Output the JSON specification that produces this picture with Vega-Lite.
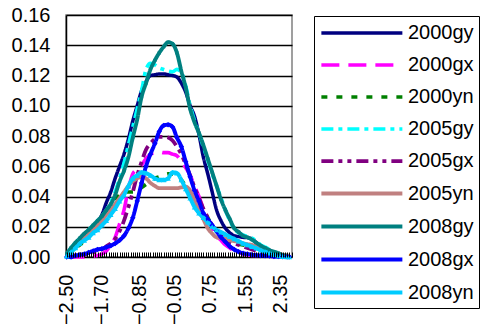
{
  "$schema": "https://vega.github.io/schema/vega-lite/v6.json",
  "width": 226,
  "height": 242,
  "autosize": {"type": "none"},
  "padding": {"left": 66, "top": 15, "right": 190, "bottom": 72},
  "background": "white",
  "config": {
    "view": {"stroke": "#808080", "strokeWidth": 1.5},
    "axis": {"labelFont": "Liberation Sans", "labelFontSize": 20, "labelColor": "black", "domainColor": "black", "domainWidth": 1.5, "title": null},
    "legend": {"orient": "none", "legendX": 248, "legendY": 1, "strokeColor": "black", "fillColor": "white", "padding": 5, "rowPadding": 10, "symbolType": "M-1,0H7", "symbolSize": 410, "labelOffset": 64, "labelFontSize": 20, "labelFont": "Liberation Sans", "labelColor": "black"}
  },
  "data": {"values": [
    {"x": -2.5, "2000gy": 0.001, "2000gx": 0, "2000yn": 0.0005, "2005gy": 0.002, "2005gx": 0, "2005yn": 0.001, "2008gy": 0.002, "2008gx": 0, "2008yn": 0.0005},
    {"x": -2.4, "2000gy": 0.005, "2000gx": 0, "2000yn": 0.003, "2005gy": 0.006, "2005gx": 0.0003, "2005yn": 0.004, "2008gy": 0.006, "2008gx": 0, "2008yn": 0.003},
    {"x": -2.3, "2000gy": 0.008, "2000gx": 0, "2000yn": 0.006, "2005gy": 0.009, "2005gx": 0.0006, "2005yn": 0.007, "2008gy": 0.0095, "2008gx": 0.001, "2008yn": 0.006},
    {"x": -2.2, "2000gy": 0.011, "2000gx": 0, "2000yn": 0.008, "2005gy": 0.012, "2005gx": 0.001, "2005yn": 0.01, "2008gy": 0.0125, "2008gx": 0.0015, "2008yn": 0.009},
    {"x": -2.1, "2000gy": 0.013, "2000gx": 0, "2000yn": 0.011, "2005gy": 0.015, "2005gx": 0.0015, "2005yn": 0.013, "2008gy": 0.0155, "2008gx": 0.002, "2008yn": 0.011},
    {"x": -2.0, "2000gy": 0.016, "2000gx": 0, "2000yn": 0.014, "2005gy": 0.018, "2005gx": 0.002, "2005yn": 0.0155, "2008gy": 0.018, "2008gx": 0.003, "2008yn": 0.013},
    {"x": -1.9, "2000gy": 0.019, "2000gx": 0.0005, "2000yn": 0.017, "2005gy": 0.021, "2005gx": 0.003, "2005yn": 0.018, "2008gy": 0.021, "2008gx": 0.004, "2008yn": 0.016},
    {"x": -1.8, "2000gy": 0.023, "2000gx": 0.001, "2000yn": 0.02, "2005gy": 0.024, "2005gx": 0.004, "2005yn": 0.021, "2008gy": 0.024, "2008gx": 0.005, "2008yn": 0.018},
    {"x": -1.7, "2000gy": 0.028, "2000gx": 0.002, "2000yn": 0.024, "2005gy": 0.027, "2005gx": 0.005, "2005yn": 0.024, "2008gy": 0.027, "2008gx": 0.0055, "2008yn": 0.021},
    {"x": -1.6, "2000gy": 0.036, "2000gx": 0.004, "2000yn": 0.029, "2005gy": 0.031, "2005gx": 0.007, "2005yn": 0.028, "2008gy": 0.031, "2008gx": 0.0065, "2008yn": 0.024},
    {"x": -1.5, "2000gy": 0.043, "2000gx": 0.008, "2000yn": 0.034, "2005gy": 0.036, "2005gx": 0.009, "2005yn": 0.031, "2008gy": 0.035, "2008gx": 0.0075, "2008yn": 0.028},
    {"x": -1.4, "2000gy": 0.052, "2000gx": 0.013, "2000yn": 0.038, "2005gy": 0.043, "2005gx": 0.012, "2005yn": 0.035, "2008gy": 0.041, "2008gx": 0.009, "2008yn": 0.032},
    {"x": -1.3, "2000gy": 0.06, "2000gx": 0.022, "2000yn": 0.041, "2005gy": 0.052, "2005gx": 0.017, "2005yn": 0.039, "2008gy": 0.05, "2008gx": 0.011, "2008yn": 0.037},
    {"x": -1.2, "2000gy": 0.068, "2000gx": 0.031, "2000yn": 0.043, "2005gy": 0.062, "2005gx": 0.024, "2005yn": 0.043, "2008gy": 0.057, "2008gx": 0.014, "2008yn": 0.041},
    {"x": -1.1, "2000gy": 0.078, "2000gx": 0.045, "2000yn": 0.043, "2005gy": 0.074, "2005gx": 0.033, "2005yn": 0.047, "2008gy": 0.066, "2008gx": 0.019, "2008yn": 0.047},
    {"x": -1.0, "2000gy": 0.09, "2000gx": 0.055, "2000yn": 0.043, "2005gy": 0.086, "2005gx": 0.043, "2005yn": 0.05, "2008gy": 0.079, "2008gx": 0.026, "2008yn": 0.052},
    {"x": -0.9, "2000gy": 0.1, "2000gx": 0.058, "2000yn": 0.044, "2005gy": 0.098, "2005gx": 0.054, "2005yn": 0.052, "2008gy": 0.091, "2008gx": 0.037, "2008yn": 0.054},
    {"x": -0.8, "2000gy": 0.11, "2000gx": 0.061, "2000yn": 0.046, "2005gy": 0.11, "2005gx": 0.063, "2005yn": 0.053, "2008gy": 0.106, "2008gx": 0.049, "2008yn": 0.056},
    {"x": -0.7, "2000gy": 0.116, "2000gx": 0.065, "2000yn": 0.048, "2005gy": 0.124, "2005gx": 0.071, "2005yn": 0.052, "2008gy": 0.115, "2008gx": 0.06, "2008yn": 0.0555},
    {"x": -0.6, "2000gy": 0.12, "2000gx": 0.068, "2000yn": 0.05, "2005gy": 0.128, "2005gx": 0.075, "2005yn": 0.049, "2008gy": 0.124, "2008gx": 0.068, "2008yn": 0.054},
    {"x": -0.5, "2000gy": 0.1205, "2000gx": 0.069, "2000yn": 0.052, "2005gy": 0.127, "2005gx": 0.078, "2005yn": 0.047, "2008gy": 0.13, "2008gx": 0.075, "2008yn": 0.052},
    {"x": -0.4, "2000gy": 0.121, "2000gx": 0.0695, "2000yn": 0.053, "2005gy": 0.125, "2005gx": 0.0795, "2005yn": 0.0455, "2008gy": 0.135, "2008gx": 0.083, "2008yn": 0.051},
    {"x": -0.3, "2000gy": 0.121, "2000gx": 0.069, "2000yn": 0.054, "2005gy": 0.124, "2005gx": 0.0795, "2005yn": 0.0455, "2008gy": 0.139, "2008gx": 0.087, "2008yn": 0.051},
    {"x": -0.2, "2000gy": 0.1205, "2000gx": 0.069, "2000yn": 0.055, "2005gy": 0.123, "2005gx": 0.079, "2005yn": 0.0455, "2008gy": 0.142, "2008gx": 0.0875, "2008yn": 0.052},
    {"x": -0.1, "2000gy": 0.12, "2000gx": 0.068, "2000yn": 0.055, "2005gy": 0.1225, "2005gx": 0.077, "2005yn": 0.0455, "2008gy": 0.141, "2008gx": 0.086, "2008yn": 0.056},
    {"x": 0.0, "2000gy": 0.119, "2000gx": 0.067, "2000yn": 0.054, "2005gy": 0.124, "2005gx": 0.073, "2005yn": 0.0455, "2008gy": 0.135, "2008gx": 0.079, "2008yn": 0.0555},
    {"x": 0.1, "2000gy": 0.115, "2000gx": 0.063, "2000yn": 0.051, "2005gy": 0.122, "2005gx": 0.068, "2005yn": 0.046, "2008gy": 0.123, "2008gx": 0.073, "2008yn": 0.051},
    {"x": 0.2, "2000gy": 0.109, "2000gx": 0.059, "2000yn": 0.047, "2005gy": 0.113, "2005gx": 0.061, "2005yn": 0.0465, "2008gy": 0.112, "2008gx": 0.063, "2008yn": 0.045},
    {"x": 0.3, "2000gy": 0.1, "2000gx": 0.054, "2000yn": 0.043, "2005gy": 0.1, "2005gx": 0.054, "2005yn": 0.044, "2008gy": 0.098, "2008gx": 0.053, "2008yn": 0.039},
    {"x": 0.4, "2000gy": 0.093, "2000gx": 0.047, "2000yn": 0.039, "2005gy": 0.09, "2005gx": 0.046, "2005yn": 0.038, "2008gy": 0.089, "2008gx": 0.044, "2008yn": 0.033},
    {"x": 0.5, "2000gy": 0.081, "2000gx": 0.04, "2000yn": 0.036, "2005gy": 0.082, "2005gx": 0.039, "2005yn": 0.031, "2008gy": 0.082, "2008gx": 0.037, "2008yn": 0.029},
    {"x": 0.6, "2000gy": 0.066, "2000gx": 0.032, "2000yn": 0.032, "2005gy": 0.073, "2005gx": 0.032, "2005yn": 0.025, "2008gy": 0.074, "2008gx": 0.029, "2008yn": 0.026},
    {"x": 0.7, "2000gy": 0.055, "2000gx": 0.025, "2000yn": 0.026, "2005gy": 0.064, "2005gx": 0.026, "2005yn": 0.019, "2008gy": 0.065, "2008gx": 0.025, "2008yn": 0.023},
    {"x": 0.8, "2000gy": 0.043, "2000gx": 0.019, "2000yn": 0.021, "2005gy": 0.055, "2005gx": 0.021, "2005yn": 0.0155, "2008gy": 0.056, "2008gx": 0.021, "2008yn": 0.02},
    {"x": 0.9, "2000gy": 0.031, "2000gx": 0.014, "2000yn": 0.017, "2005gy": 0.047, "2005gx": 0.017, "2005yn": 0.013, "2008gy": 0.047, "2008gx": 0.017, "2008yn": 0.018},
    {"x": 1.0, "2000gy": 0.024, "2000gx": 0.011, "2000yn": 0.014, "2005gy": 0.039, "2005gx": 0.014, "2005yn": 0.0125, "2008gy": 0.038, "2008gx": 0.013, "2008yn": 0.0165},
    {"x": 1.1, "2000gy": 0.019, "2000gx": 0.008, "2000yn": 0.012, "2005gy": 0.031, "2005gx": 0.012, "2005yn": 0.012, "2008gy": 0.031, "2008gx": 0.01, "2008yn": 0.015},
    {"x": 1.2, "2000gy": 0.016, "2000gx": 0.006, "2000yn": 0.01, "2005gy": 0.024, "2005gx": 0.01, "2005yn": 0.011, "2008gy": 0.025, "2008gx": 0.007, "2008yn": 0.0134},
    {"x": 1.3, "2000gy": 0.014, "2000gx": 0.004, "2000yn": 0.009, "2005gy": 0.019, "2005gx": 0.009, "2005yn": 0.0105, "2008gy": 0.019, "2008gx": 0.005, "2008yn": 0.012},
    {"x": 1.4, "2000gy": 0.0135, "2000gx": 0.003, "2000yn": 0.0085, "2005gy": 0.016, "2005gx": 0.008, "2005yn": 0.01, "2008gy": 0.0165, "2008gx": 0.0035, "2008yn": 0.0105},
    {"x": 1.5, "2000gy": 0.013, "2000gx": 0.002, "2000yn": 0.008, "2005gy": 0.0145, "2005gx": 0.007, "2005yn": 0.009, "2008gy": 0.014, "2008gx": 0.0025, "2008yn": 0.009},
    {"x": 1.6, "2000gy": 0.0128, "2000gx": 0.0015, "2000yn": 0.0075, "2005gy": 0.0135, "2005gx": 0.006, "2005yn": 0.0085, "2008gy": 0.013, "2008gx": 0.002, "2008yn": 0.008},
    {"x": 1.7, "2000gy": 0.012, "2000gx": 0.001, "2000yn": 0.007, "2005gy": 0.0125, "2005gx": 0.005, "2005yn": 0.008, "2008gy": 0.0115, "2008gx": 0.0015, "2008yn": 0.0068},
    {"x": 1.8, "2000gy": 0.0095, "2000gx": 0.001, "2000yn": 0.006, "2005gy": 0.0105, "2005gx": 0.004, "2005yn": 0.007, "2008gy": 0.0095, "2008gx": 0.0012, "2008yn": 0.0058},
    {"x": 1.9, "2000gy": 0.0075, "2000gx": 0.0008, "2000yn": 0.005, "2005gy": 0.008, "2005gx": 0.003, "2005yn": 0.006, "2008gy": 0.0075, "2008gx": 0.001, "2008yn": 0.0045},
    {"x": 2.0, "2000gy": 0.006, "2000gx": 0.0006, "2000yn": 0.004, "2005gy": 0.0065, "2005gx": 0.0025, "2005yn": 0.005, "2008gy": 0.006, "2008gx": 0.0008, "2008yn": 0.0035},
    {"x": 2.1, "2000gy": 0.0045, "2000gx": 0.0005, "2000yn": 0.003, "2005gy": 0.005, "2005gx": 0.002, "2005yn": 0.004, "2008gy": 0.0045, "2008gx": 0.0006, "2008yn": 0.0025},
    {"x": 2.2, "2000gy": 0.003, "2000gx": 0.0004, "2000yn": 0.0025, "2005gy": 0.0035, "2005gx": 0.0015, "2005yn": 0.003, "2008gy": 0.0035, "2008gx": 0.0004, "2008yn": 0.0015},
    {"x": 2.3, "2000gy": 0.002, "2000gx": 0.0003, "2000yn": 0.002, "2005gy": 0.0025, "2005gx": 0.001, "2005yn": 0.002, "2008gy": 0.0025, "2008gx": 0.0003, "2008yn": 0.0008},
    {"x": 2.4, "2000gy": 0.0013, "2000gx": 0.0002, "2000yn": 0.0015, "2005gy": 0.0015, "2005gx": 0.0008, "2005yn": 0.0015, "2008gy": 0.0012, "2008gx": 0.0002, "2008yn": 0.0002},
    {"x": 2.5, "2000gy": 0.0008, "2000gx": 0.0001, "2000yn": 0.001, "2005gy": 0.0008, "2005gx": 0.0005, "2005yn": 0.001, "2008gy": 0.0003, "2008gx": 0.0001, "2008yn": 0},
    {"x": 2.55, "2000gy": 0.0006, "2000gx": 0.0001, "2000yn": 0.0008, "2005gy": 0.0006, "2005gx": 0.0004, "2005yn": 0.0008, "2008gy": 0.0002, "2008gx": 0.0001, "2008yn": 0}
  ]},
  "transform": [
    {"fold": ["2000gy", "2000gx", "2000yn", "2005gy", "2005gx", "2005yn", "2008gy", "2008gx", "2008yn"], "as": ["series", "value"]}
  ],
  "encoding": {
    "x": {
      "field": "x", "type": "quantitative",
      "scale": {"domain": [-2.515, 2.61], "nice": false, "zero": false},
      "axis": {
        "values": [-2.5,-2.45,-2.4,-2.35,-2.3,-2.25,-2.2,-2.15,-2.1,-2.05,-2,-1.95,-1.9,-1.85,-1.8,-1.75,-1.7,-1.65,-1.6,-1.55,-1.5,-1.45,-1.4,-1.35,-1.3,-1.25,-1.2,-1.15,-1.1,-1.05,-1,-0.95,-0.9,-0.85,-0.8,-0.75,-0.7,-0.65,-0.6,-0.55,-0.5,-0.45,-0.4,-0.35,-0.3,-0.25,-0.2,-0.15,-0.1,-0.05,0,0.05,0.1,0.15,0.2,0.25,0.3,0.35,0.4,0.45,0.5,0.55,0.6,0.65,0.7,0.75,0.8,0.85,0.9,0.95,1,1.05,1.1,1.15,1.2,1.25,1.3,1.35,1.4,1.45,1.5,1.55,1.6,1.65,1.7,1.75,1.8,1.85,1.9,1.95,2,2.05,2.1,2.15,2.2,2.25,2.3,2.35,2.4,2.45,2.5,2.55,2.6],
        "labelExpr": "indexof([-2.5,-1.7,-0.85,-0.05,0.75,1.55,2.35], datum.value) >= 0 ? format(datum.value, '.2f') : ''",
        "labelAngle": -90,
        "labelOverlap": false,
        "labelFlush": false,
        "labelBound": false,
        "offset": -5,
        "domain": false,
        "ticks": true,
        "tickSize": 5,
        "tickColor": "black",
        "tickWidth": 1,
        "tickOpacity": 1,
        "zindex": 1,
        "labelPadding": 17,
        "grid": false
      }
    },
    "y": {
      "field": "value", "type": "quantitative",
      "scale": {"domain": [0, 0.16], "nice": false},
      "axis": {"values": [0, 0.02, 0.04, 0.06, 0.08, 0.1, 0.12, 0.14, 0.16], "format": ".2f", "ticks": false, "grid": true, "gridColor": "black", "gridWidth": 1.5, "labelPadding": 16}
    },
    "color": {
      "field": "series", "type": "nominal", "title": null,
      "scale": {
        "domain": ["2000gy", "2000gx", "2000yn", "2005gy", "2005gx", "2005yn", "2008gy", "2008gx", "2008yn"],
        "range": ["#000080", "#FF00FF", "#008000", "#00FFFF", "#800080", "#C08080", "#008080", "#0000FF", "#00CCFF"]
      }
    }
  },
  "layer": [
    {
      "mark": {"type": "line", "interpolate": "monotone"},
      "encoding": {
        "strokeDash": {
          "field": "series", "type": "nominal", "title": null,
          "scale": {
            "domain": ["2000gy", "2000gx", "2000yn", "2005gy", "2005gx", "2005yn", "2008gy", "2008gx", "2008yn"],
            "range": [[1, 0], [18, 9], [6, 9], [12, 5, 4, 5], [12, 5, 4, 5, 4, 5], [1, 0], [1, 0], [1, 0], [1, 0]]
          }
        },
        "strokeWidth": {
          "field": "series", "type": "nominal", "title": null,
          "scale": {
            "domain": ["2000gy", "2000gx", "2000yn", "2005gy", "2005gx", "2005yn", "2008gy", "2008gx", "2008yn"],
            "range": [3.5, 4, 4, 2, 2.5, 3.5, 2, 2, 2.5]
          }
        }
      }
    },
    {
      "transform": [{"filter": {"field": "series", "equal": "2008gy"}}],
      "mark": {"type": "point", "shape": "square", "filled": true, "size": 10, "opacity": 1}
    },
    {
      "transform": [{"filter": {"field": "series", "equal": "2008gx"}}],
      "mark": {"type": "point", "shape": "diamond", "filled": true, "size": 30, "opacity": 1}
    },
    {
      "transform": [{"filter": {"field": "series", "equal": "2008yn"}}],
      "mark": {"type": "point", "shape": "triangle-up", "filled": true, "size": 30, "opacity": 1}
    }
  ]
}
